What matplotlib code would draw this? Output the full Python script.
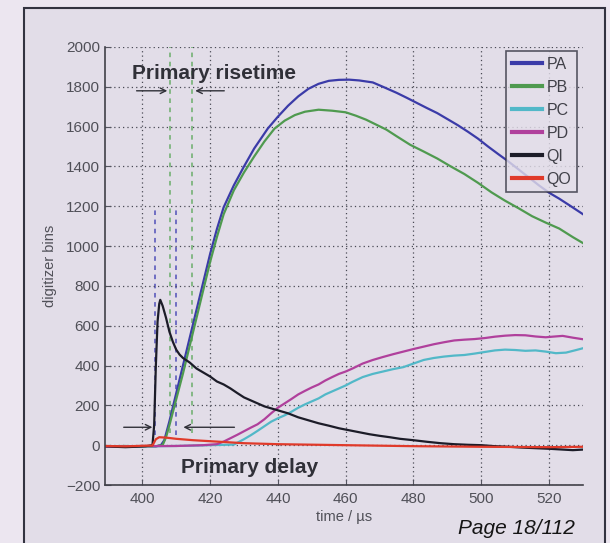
import matplotlib
matplotlib.use('Agg')
import matplotlib.pyplot as plt
from matplotlib.patches import Rectangle

plt.rcParams['font.family'] = ['Liberation Sans', 'DejaVu Sans']

# ---- data ----
pa_t = [389, 395, 400, 404, 405.5, 406.5, 408, 410, 412, 414, 416, 418, 420, 422, 424, 427, 430, 433,
        437, 440, 443, 446, 449, 452, 455, 458, 461, 464, 468, 471, 475, 478, 481, 484, 487, 490, 493,
        496, 499, 502, 505, 508, 511, 514, 517, 520, 523, 526, 530]
pa_v = [-5, -8, -4, -6, 0, 25, 120, 260, 400, 540, 680, 820, 960, 1085, 1195, 1305, 1400, 1490,
        1590, 1650, 1705, 1752, 1790, 1815, 1830, 1835, 1836, 1832, 1822, 1800, 1770, 1745, 1719, 1693,
        1668, 1638, 1608, 1575, 1540, 1500, 1462, 1425, 1385, 1345, 1305, 1268, 1238, 1205, 1160]

pb_t = [389, 395, 400, 404, 406, 407, 408, 410, 412, 414, 416, 418, 420, 422, 424, 427, 430, 433, 436,
        439, 442, 445, 448, 452, 456, 460, 463, 466, 469, 472, 475, 479, 483, 487, 491, 495, 499, 503,
        507, 511, 515, 519, 523, 527, 530]
pb_v = [-6, -4, -8, -5, 0, 40, 100, 230, 360, 500, 640, 780, 920, 1045, 1160, 1280, 1370, 1450, 1525,
        1590, 1630, 1658, 1675, 1685, 1680, 1672, 1655, 1635, 1610, 1585, 1552, 1509, 1475, 1440, 1400,
        1362, 1318, 1270, 1228, 1190, 1150, 1118, 1088, 1045, 1015]

pc_t = [389, 400, 410, 420, 427, 428, 430, 432, 434, 436, 438, 440, 442, 444, 446, 448, 450, 452, 454,
        456, 458, 460, 462, 465, 468, 471, 474, 477, 480, 483, 486, 489, 492, 495, 498, 501, 504, 507,
        510, 513, 516, 519, 522, 525, 528, 530]
pc_v = [-8, -6, -4, 0, 3, 12, 30, 50, 72, 95, 118, 135, 150, 168, 188, 205, 220, 235, 255,
        270, 285, 300, 318, 342, 358, 370, 382, 392, 410, 428, 438, 445, 450, 453, 460, 468, 476, 480,
        478, 474, 476, 470, 462, 465, 478, 487]

pd_t = [389, 400, 410, 418, 422, 424, 426, 428, 430, 432, 434, 436, 438, 440, 442, 444, 446, 448, 450,
        452, 454, 456, 458, 460, 462, 465, 468, 471, 474, 477, 480, 483, 486, 489, 492, 495, 498, 501,
        504, 507, 510, 513, 516, 519, 521, 524, 527, 530]
pd_v = [-8, -5, -4, 0, 5, 18, 35, 52, 70, 88, 105, 130, 160, 188, 210, 232, 255, 273, 290,
        305, 325, 342, 358, 370, 385, 410, 428, 443, 457, 470, 483, 495, 507, 517, 526, 530, 533, 538,
        545, 550, 553, 552, 546, 542, 545, 549, 540, 532]

qi_t = [389, 392, 395, 398, 401, 403, 403.5, 404, 404.5, 405, 405.3, 406, 407, 408, 409, 410, 411, 412,
        414, 416, 418, 420, 422, 424, 426, 428, 430, 432, 434, 436, 438, 440, 443, 446, 449, 452, 455,
        458, 461, 464, 467, 470, 473, 476, 480, 484, 488, 492, 496, 500, 504, 508, 512, 516, 520, 524,
        527, 530]
qi_v = [-5, -8, -10, -8, -5, 0, 100, 400, 620, 710, 730, 700, 640, 570, 520, 480, 455, 438,
        415, 385, 365, 345, 320, 305, 285, 262, 240, 225, 210, 195, 185, 175, 160, 140, 125, 110, 98,
        85, 75, 65, 55, 47, 40, 32, 25, 17, 10, 5, 2, 0, -5, -8, -12, -15, -18, -22,
        -25, -22]

qo_t = [389, 395, 400, 403, 404, 405, 407, 410, 415, 420, 425, 430, 440, 460, 480, 500, 520, 530]
qo_v = [-4, -6, -3, -2, 30, 40, 38, 32, 25, 20, 15, 10, 5, 0, -5, -8, -10, -8]

series = [('PA', pa_t, pa_v, '#3b3ba8'),
          ('PB', pb_t, pb_v, '#4f9a4f'),
          ('PC', pc_t, pc_v, '#52b8c8'),
          ('PD', pd_t, pd_v, '#b0409c'),
          ('QI', qi_t, qi_v, '#1c1c28'),
          ('QO', qo_t, qo_v, '#e03a2a')]

rise_times = [408.2, 414.8]     # green dashed markers
delay_times = [403.8, 409.9]    # blue dashed markers

# ---- figure ----
fig = plt.figure(figsize=(6.1, 5.43), dpi=100, facecolor='#ece6f0')
frame = Rectangle((24 / 610, -0.02), (605 - 24) / 610, 1 - 8 / 543 + 0.02,
                  transform=fig.transFigure, facecolor='#e2dde8',
                  edgecolor='#333340', linewidth=1.5, zorder=-10)
fig.patches.append(frame)

ax = fig.add_axes([105 / 610, 1 - 485 / 543, (583 - 105) / 610, (485 - 47) / 543])
ax.set_facecolor('none')
ax.set_zorder(5)

for name, t, v, c in series:
    ax.plot(t, v, color=c, lw=1.6, label=name)

for x in rise_times:
    ax.plot([x, x], [60, 2000], color='#6aae6a', lw=1.1, ls=(0, (3, 3)), zorder=1)
for x in delay_times:
    ax.plot([x, x], [50, 1200], color='#5050b8', lw=1.1, ls=(0, (3, 3)), zorder=1)

ax.set_xlim(389, 530)
ax.set_ylim(-200, 2000)
ax.set_xticks([400, 420, 440, 460, 480, 500, 520])
ax.set_yticks(range(-200, 2001, 200))
ax.grid(True, color='#4a4a55', lw=0.9, ls=(0, (1, 2.5)))
ax.tick_params(direction='in', length=4, colors='#555560', labelsize=11, labelcolor='#505058')
ax.tick_params(axis='x', pad=5)
for s in ['top', 'right']:
    ax.spines[s].set_visible(False)
for s in ['left', 'bottom']:
    ax.spines[s].set_color('#404048')
    ax.spines[s].set_linewidth(1.2)

ax.set_xlabel('time / \u00b5s', fontsize=10.5, color='#505058', labelpad=3)
ax.set_ylabel('digitizer bins', fontsize=10.5, color='#505058', labelpad=6)

# annotations
ax.text(397, 1865, 'Primary risetime', fontsize=15, fontweight='bold', color='#303038', va='center')
ax.annotate('', xy=(rise_times[0], 1780), xytext=(397.5, 1780),
            arrowprops=dict(arrowstyle='->', color='#303038', lw=1))
ax.annotate('', xy=(rise_times[1], 1780), xytext=(425, 1780),
            arrowprops=dict(arrowstyle='->', color='#303038', lw=1))
ax.text(411.5, -110, 'Primary delay', fontsize=15, fontweight='bold', color='#303038', va='center')
ax.annotate('', xy=(delay_times[0], 90), xytext=(393.7, 90),
            arrowprops=dict(arrowstyle='->', color='#303038', lw=1))
ax.annotate('', xy=(delay_times[1] + 1.4, 90), xytext=(428, 90),
            arrowprops=dict(arrowstyle='->', color='#303038', lw=1))

leg = ax.legend(loc='upper right', bbox_to_anchor=(577 / 610, 1 - 51 / 543),
                bbox_transform=fig.transFigure, fontsize=11.5, frameon=True, fancybox=False,
                handlelength=1.9, handletextpad=0.3, labelspacing=0.5, borderpad=0.35,
                borderaxespad=0)
leg.get_frame().set_edgecolor('#333340')
leg.get_frame().set_facecolor('#e4dfea')
leg.get_frame().set_linewidth(1.2)
for line in leg.get_lines():
    line.set_linewidth(3)
for txt in leg.get_texts():
    txt.set_color('#404048')

fig.text(575 / 610, 1 - 528 / 543, 'Page 18/112', fontsize=15, style='italic',
         color='#151515', ha='right', va='center')

fig.savefig('out.png', dpi=100, facecolor=fig.get_facecolor())
